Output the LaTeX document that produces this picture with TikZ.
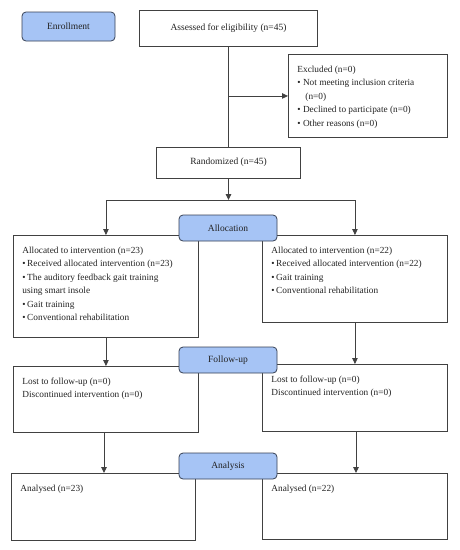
\documentclass[tikz,border=0pt]{standalone}
\usepackage{fontspec}
\setmainfont{Liberation Serif}
\usetikzlibrary{arrows.meta}
\definecolor{hdrfill}{RGB}{166,196,245}
\definecolor{hdrdraw}{RGB}{55,65,85}
\definecolor{boxdraw}{RGB}{65,65,65}
\definecolor{txt}{RGB}{35,35,35}
\newcommand{\boxtxt}[3]{\parbox[c][#2][t]{#1}{\fontsize{9.3}{13.5}\selectfont\raggedright\vspace*{8.2pt}\strut #3}}
\tikzset{
  box/.style={draw=boxdraw, line width=0.9pt, anchor=north west, inner xsep=9pt, inner ysep=0pt, text=txt},
  cbox/.style={draw=boxdraw, line width=0.9pt, inner sep=0pt, text=txt, font=\fontsize{9.5}{11}\selectfont},
  hdr/.style={draw=hdrdraw, fill=hdrfill, rounded corners=4pt, line width=0.8pt, minimum width=98pt, minimum height=26pt, inner sep=0pt, text=txt, font=\fontsize{9.5}{11}\selectfont},
  arr/.style={draw=boxdraw, line width=0.9pt, -{Triangle[length=6pt,width=5.5pt]}},
  ln/.style={draw=boxdraw, line width=0.9pt}
}
\begin{document}
\begin{tikzpicture}[x=1pt,y=-1pt]
\useasboundingbox (0,0) rectangle (459,550);
\fill[white] (0,0) rectangle (459,550);
% header
\node[hdr, minimum width=93pt, minimum height=29pt] (enr) at (68.5,26.5) {Enrollment};
\node[cbox, minimum width=178pt, minimum height=36pt] (ass) at (228.5,28) {Assessed for eligibility (n=45)};
\node[box] (exc) at (288,54) {\boxtxt{141pt}{83pt}{Excluded (n=0)\\
• Not meeting inclusion criteria\\
\hspace*{8pt}(n=0)\\
• Declined to participate (n=0)\\
• Other reasons (n=0)}};
\node[cbox, minimum width=144pt, minimum height=31pt] (ran) at (228.5,162.5) {Randomized (n=45)};
% allocation
\node[box] (al) at (13,235) {\boxtxt{167pt}{102pt}{Allocated to intervention (n=23)\\
•\,Received allocated intervention (n=23)\\
•\,The auditory feedback gait training\\
using smart insole\\
•\,Gait training\\
•\,Conventional rehabilitation}};
\node[box] (ar) at (262,235) {\boxtxt{167pt}{87pt}{Allocated to intervention (n=22)\\
•\,Received allocated intervention (n=22)\\
•\,Gait training\\
•\,Conventional rehabilitation}};
% follow-up
\node[box] (fl) at (13,366) {\boxtxt{167pt}{66pt}{Lost to follow-up (n=0)\\
Discontinued intervention (n=0)}};
\node[box] (fr) at (262,364) {\boxtxt{167pt}{67pt}{Lost to follow-up (n=0)\\
Discontinued intervention (n=0)}};
% analysis
\node[box] (nl) at (11,473) {\boxtxt{166pt}{67pt}{Analysed (n=23)}};
\node[box] (nr) at (262,473) {\boxtxt{167pt}{66pt}{Analysed (n=22)}};
% connectors
\coordinate (j1) at (ass.south |- exc.west);
\coordinate (j2) at (ran.south |- 0,200);
\coordinate (jl) at (al.north |- j2);
\coordinate (jr) at (ar.north |- j2);
\draw[ln] (ass.south) -- (ran.north);
\draw[arr] (j1) -- (exc.west);
\draw[arr] (ran.south) -- (j2);
\draw[ln] (jl) -- (jr);
\draw[arr] (jl) -- (al.north);
\draw[arr] (jr) -- (ar.north);
\draw[arr] (al.south) -- (fl.north);
\draw[arr] (ar.south) -- (fr.north);
\coordinate (kl) at (104,0);
\coordinate (kr) at (356,0);
\draw[arr] (kl |- fl.south) -- (kl |- nl.north);
\draw[arr] (kr |- fr.south) -- (kr |- nr.north);
% stage headers on top
\node[hdr] (alh) at (228,228) {Allocation};
\node[hdr] (fuh) at (228,360) {Follow-up};
\node[hdr] (anh) at (228,466) {Analysis};
\end{tikzpicture}
\end{document}
